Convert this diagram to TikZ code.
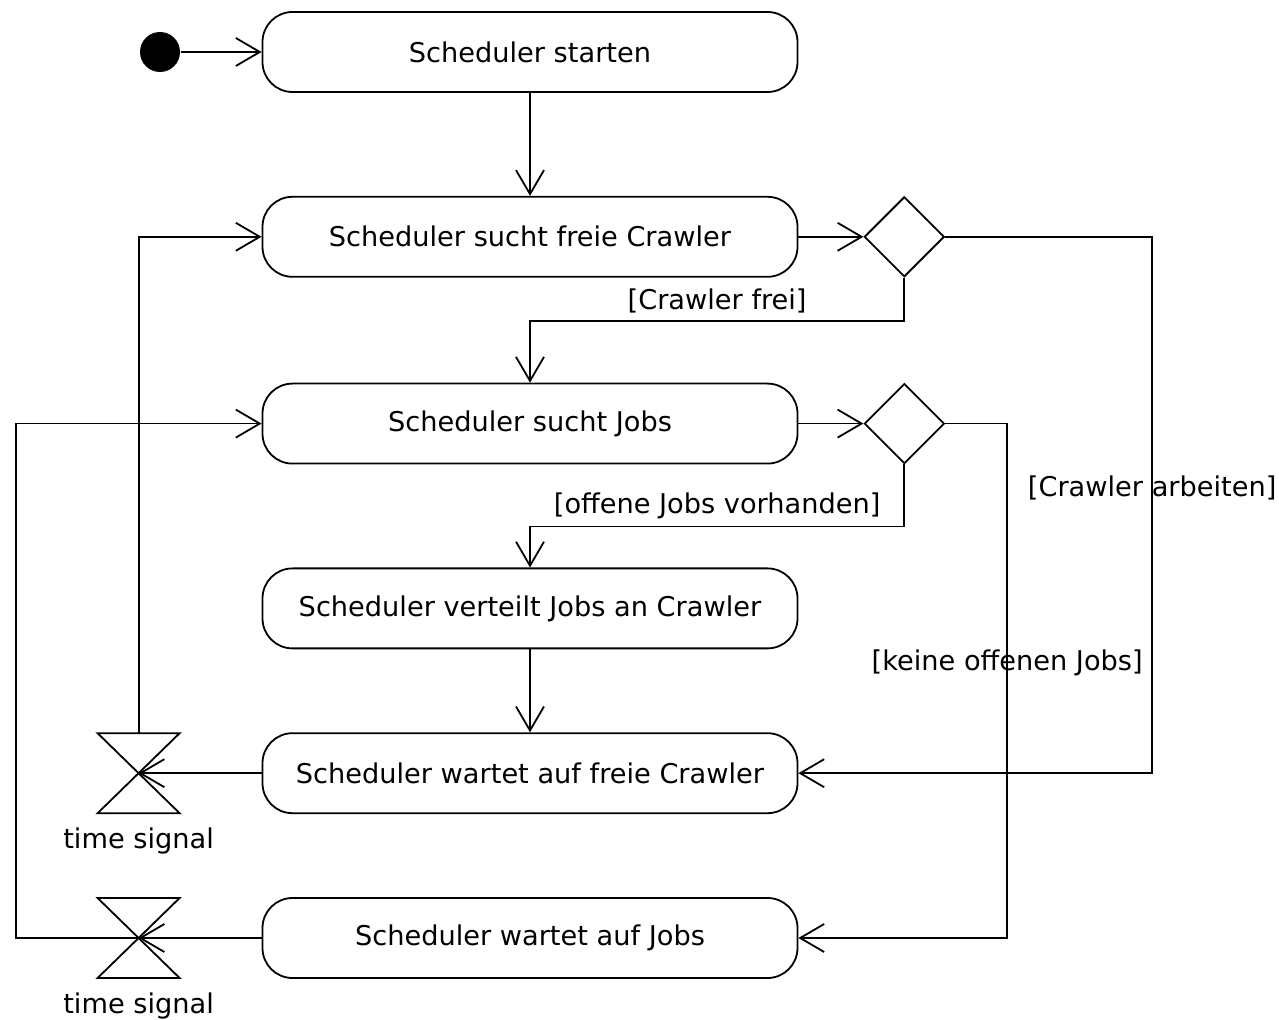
\documentclass[tikz,border=0pt]{standalone}
\usepackage{fontspec}
\setmainfont{DejaVu Sans}
\usetikzlibrary{shapes.geometric, arrows.meta, positioning}

\begin{document}
\begin{tikzpicture}[
    x=0.5pt, y=-0.5pt, line width=0.9pt,
    action/.style={draw, rounded corners=15pt, minimum width=267.5pt, minimum height=40pt, inner sep=0pt, font=\fontsize{13.6}{16}\selectfont},
    decision/.style={draw, diamond, minimum width=40pt, minimum height=40pt, inner sep=0pt},
    timer/.style={minimum width=41pt, minimum height=40pt, inner sep=0pt, outer sep=0pt, label={[font=\fontsize{13.6}{16}\selectfont, label distance=3.5pt]below:time signal}},
    guard/.style={font=\fontsize{13.6}{16}\selectfont},
    arrow/.style={-{Straight Barb[length=12pt, width=14pt]}}
]
    \useasboundingbox (0,0) rectangle (1279,1020);

    % Start
    \node[circle, fill, minimum size=20pt, inner sep=0pt] (start) at (160,52) {};

    % Actions
    \node[action] (starten) at (530,52) {Scheduler starten};
    \node[action, below=51.5pt of starten] (freecrawler) {Scheduler sucht freie Crawler};
    \node[action, below=52.5pt of freecrawler] (jobs) {Scheduler sucht Jobs};
    \node[action, below=51.5pt of jobs] (distribute) {Scheduler verteilt Jobs an Crawler};
    \node[action, below=41.5pt of distribute] (waitcrawler) {Scheduler wartet auf freie Crawler};
    \node[action, below=41.5pt of waitcrawler] (waitjobs) {Scheduler wartet auf Jobs};

    % Decisions
    \node[decision, right=32.5pt of freecrawler] (dec1) {};
    \node[decision, right=32.5pt of jobs] (dec2) {};

    % Time signals
    \node[timer, left=41pt of waitcrawler] (tsig1) {};
    \node[timer, left=41pt of waitjobs] (tsig2) {};
    \foreach \t in {tsig1,tsig2}
        \draw (\t.north west) -- (\t.north east) -- (\t.south west) -- (\t.south east) -- cycle;

    % Flows
    \draw[arrow] (start) -- (starten);
    \draw[arrow] (starten) -- (freecrawler);
    \draw[arrow] (freecrawler) -- (dec1);
    \draw[arrow] (dec1.south) -- ++(0,43) -| (jobs.north) node[guard, pos=0.25, above] {[Crawler frei]};
    \draw[arrow] (dec1.east) -- ++(207,0) |- (waitcrawler.east) node[guard, pos=0.234] {[Crawler arbeiten]};
    \draw[arrow] (jobs) -- (dec2);
    \draw[arrow] (dec2.south) -- ++(0,62) -| (distribute.north) node[guard, pos=0.25, above] {[offene Jobs vorhanden]};
    \draw[arrow] (dec2.east) -- ++(62,0) |- (waitjobs.east) node[guard, pos=0.233] {[keine offenen Jobs]};
    \draw[arrow] (distribute) -- (waitcrawler);
    \draw[arrow] (waitcrawler) -- (tsig1.center);
    \draw[arrow] (tsig1.north) |- (freecrawler.west);
    \draw[arrow] (waitjobs) -- (tsig2.center);
    \draw[arrow] (tsig2.center) -- ++(-123,0) |- (jobs.west);
\end{tikzpicture}
\end{document}
